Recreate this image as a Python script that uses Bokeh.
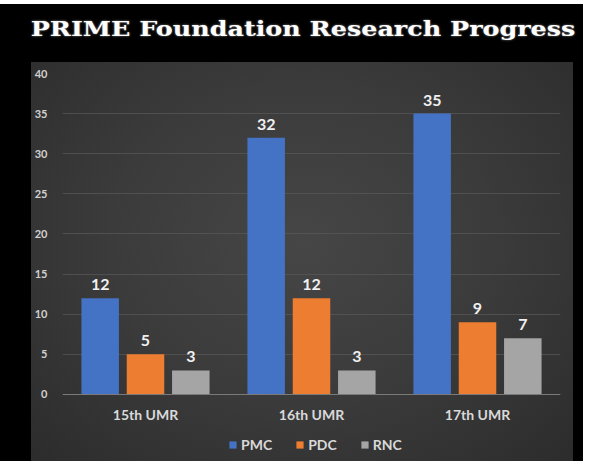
from bokeh.plotting import figure
from bokeh.models import (ColumnDataSource, FactorRange, Range1d, FixedTicker,
                          Legend, LegendItem, LabelSet, Div)
from bokeh.core.properties import value
from bokeh.layouts import column
from bokeh.transform import dodge
from bokeh.embed import file_html
from bokeh.resources import INLINE

title_text = "PRIME Foundation Research Progress"
categories = ["15th UMR", "16th UMR", "17th UMR"]
series_names = ["PMC", "PDC", "RNC"]
pmc = [12, 32, 35]
pdc = [5, 12, 9]
rnc = [3, 3, 7]
y_ticks = [0, 5, 10, 15, 20, 25, 30, 35, 40]
colors = ["#4472C4", "#ED7D31", "#A5A5A5"]

series_values = [pmc, pdc, rnc]
offsets = [-0.273, 0.0, 0.273]
bar_width = 0.226

p = figure(x_range=FactorRange(factors=categories), y_range=Range1d(-8.35, 40),
           width=542, height=399, output_backend="svg", toolbar_location=None,
           min_border_left=25, min_border_right=13, min_border_top=11, min_border_bottom=0,
           border_fill_alpha=0, background_fill_alpha=0,
           outline_line_color=None, margin=(0, 0, 2, 31),
           styles={"background": "radial-gradient(ellipse at 50% 45%, #464646 0%, #3b3b3b 50%, #2c2c2c 100%)"})

items = []
for name, vals, col, off in zip(series_names, series_values, colors, offsets):
    src = ColumnDataSource(dict(cat=categories, val=vals, lab=[str(v) for v in vals]))
    r = p.vbar(x=dodge("cat", off, range=p.x_range), top="val", bottom=0, width=bar_width,
               source=src, fill_color=col, line_color=None)
    items.append(LegendItem(label=name, renderers=[r]))
    labels = LabelSet(x=dodge("cat", off, range=p.x_range), y="val", text="lab", source=src,
                      y_offset=8, text_align="center", text_baseline="bottom",
                      text_font=value("Lato"), text_font_style="bold", text_font_size="16px",
                      text_color="#f0f0f0")
    p.add_layout(labels)

p.yaxis.ticker = FixedTicker(ticks=y_ticks)
p.yaxis.axis_line_color = None
p.yaxis.major_tick_line_color = None
p.yaxis.minor_tick_line_color = None
p.yaxis.major_label_standoff = 9
p.yaxis.major_label_text_font = "Lato"
p.yaxis.major_label_text_font_style = "bold"
p.yaxis.major_label_text_font_size = "11px"
p.yaxis.major_label_text_color = "#d0d0d0"

p.xaxis.fixed_location = 0
p.xaxis.axis_line_color = "#7a7a7a"
p.xaxis.axis_line_width = 1
p.xaxis.major_tick_line_color = None
p.xaxis.minor_tick_line_color = None
p.xaxis.major_label_standoff = 6
p.xaxis.major_label_text_font = "Lato"
p.xaxis.major_label_text_font_style = "bold"
p.xaxis.major_label_text_font_size = "14px"
p.xaxis.major_label_text_color = "#d9d9d9"

p.xgrid.grid_line_color = None
p.ygrid.grid_line_color = "#5a5a5a"
p.ygrid.grid_line_alpha = 0.7

legend = Legend(items=items, orientation="horizontal", location=(166, 8),
                background_fill_alpha=0, border_line_color=None,
                label_text_font="Lato", label_text_font_style="bold",
                label_text_font_size="14px", label_text_color="#d9d9d9",
                glyph_width=9, glyph_height=9, spacing=23, label_standoff=4,
                margin=0, padding=0)
p.add_layout(legend, "center")

title_div = Div(
    text=('<div style="margin-left:27px;width:542px;text-align:center;padding-top:9px;'
          'line-height:21px;font-family:\'DejaVu Serif\';font-weight:bold;font-size:21px;'
          'color:#ffffff;text-shadow:0 0 2px #9a9a9a;white-space:nowrap;">'
          '<span style="display:inline-block;transform:scaleX(1.21);transform-origin:center;">'
          + title_text + '</span></div>'),
    width=573, height=48)

layout = column(title_div, p, styles={"background-color": "black"}, margin=(4, 0, 0, 0))

open("out.html", "w").write(file_html(layout, INLINE))
